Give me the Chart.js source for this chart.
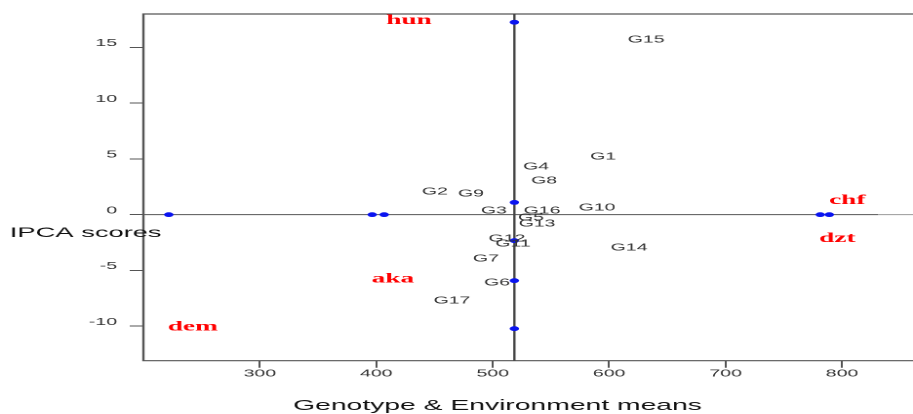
<!DOCTYPE html>
<html>
<head>
<meta charset="utf-8">
<script src="https://cdn.jsdelivr.net/npm/chart.js@4.4.1/dist/chart.umd.min.js"></script>
<style>
    html, body { margin: 0; padding: 0; background: #fff; overflow: hidden; }
    /* La figura original viene estirada ~1.95x en horizontal: se reproduce igual */
    #lienzo {
        position: absolute; left: 0; top: 0;
        width: 468px; height: 414px;
        transform: scaleX(1.9509); transform-origin: 0 0;
    }
</style>
</head>
<body>
<div id="lienzo"><canvas id="graficoBiplot"></canvas></div>
<script>
// Genotipos: media (eje X) y puntuación IPCA1 (eje Y)
const genotipos = ['G1', 'G2', 'G3', 'G4', 'G5', 'G6', 'G7', 'G8', 'G9',
    'G10', 'G11', 'G12', 'G13', 'G14', 'G15', 'G16', 'G17'];
const mediaGenotipo = [594.8, 450.4, 501.1, 537.2, 532.9, 503.7, 494.2, 544.1, 481.3,
    589.6, 517.4, 512.3, 538.1, 617.1, 631.8, 542.4, 465.0];
const ipcaGenotipo = [5.21, 2.06, 0.36, 4.31, -0.27, -6.10, -3.95, 3.05, 1.89,
    0.63, -2.60, -2.15, -0.81, -2.96, 15.71, 0.36, -7.72];

// Ambientes (etiquetas en rojo)
const ambientes = ['hun', 'aka', 'dem', 'chf', 'dzt'];
const mediaAmbiente = [428.1, 414.3, 242.4, 804.5, 795.9];
const ipcaAmbiente = [17.41, -5.75, -10.05, 1.26, -2.15];

// Puntos azules sobre los ejes de referencia
const mediaPunto = [518.6, 518.6, 518.6, 518.6, 518.6, 221.8, 396.5, 406.8, 781.3, 789.1];
const ipcaPunto = [17.26, 1.1, -2.33, -5.92, -10.23, 0, 0, 0, 0, 0];

// Media general y rangos de los ejes
const mediaGeneral = 518.6;
const finTramoOscuro = 831;
const rangoX = [200, 861];
const rangoY = [-13.1, 18];
const ticksX = [300, 400, 500, 600, 700, 800];
const ticksY = [-10, -5, 0, 5, 10, 15];

const fuenteSans = '"Liberation Sans", Arial, sans-serif';
const fuenteSerif = '"Liberation Serif", "Times New Roman", serif';

/**
 * Marco, etiquetas de texto y títulos de ejes (estilo gráfico base de R).
 */
const pluginBiplot = {
    id: 'biplot',
    beforeDatasetsDraw(chart) {
        const { ctx, chartArea } = chart;
        ctx.save();
        ctx.strokeStyle = '#555';
        ctx.lineWidth = 1.2;
        ctx.beginPath();
        ctx.moveTo(chart.width, chartArea.top);
        ctx.lineTo(chartArea.left, chartArea.top);
        ctx.lineTo(chartArea.left, chartArea.bottom);
        ctx.lineTo(chart.width, chartArea.bottom);
        ctx.stroke();
        ctx.restore();
    },
    afterDatasetsDraw(chart) {
        const { ctx } = chart;
        const escalaX = chart.scales.x;
        const escalaY = chart.scales.y;
        ctx.save();
        ctx.textAlign = 'center';
        ctx.textBaseline = 'middle';

        ctx.fillStyle = '#333';
        ctx.font = `10px ${fuenteSans}`;
        genotipos.forEach((g, i) => {
            ctx.fillText(g,
                escalaX.getPixelForValue(mediaGenotipo[i]),
                escalaY.getPixelForValue(ipcaGenotipo[i]));
        });

        ctx.fillStyle = '#ff0000';
        ctx.font = `bold 14px ${fuenteSerif}`;
        ambientes.forEach((a, i) => {
            ctx.fillText(a,
                escalaX.getPixelForValue(mediaAmbiente[i]),
                escalaY.getPixelForValue(ipcaAmbiente[i]));
        });
        ctx.restore();
    },
    afterDraw(chart) {
        const { ctx } = chart;
        ctx.save();
        ctx.fillStyle = '#111';
        ctx.font = `14px ${fuenteSans}`;
        ctx.textBaseline = 'middle';
        ctx.textAlign = 'left';
        ctx.fillText('IPCA scores', 5, 233);
        ctx.font = `14.5px ${fuenteSans}`;
        ctx.textAlign = 'center';
        ctx.fillText('Genotype & Environment means', 255, 406);
        ctx.restore();
    },
};

const ctx = document.getElementById('graficoBiplot').getContext('2d');
new Chart(ctx, {
    type: 'scatter',
    data: {
        datasets: [
            {
                label: 'puntos',
                data: mediaPunto.map((m, i) => ({ x: m, y: ipcaPunto[i] })),
                backgroundColor: '#0a14f0',
                borderWidth: 0,
                pointRadius: 2.4,
            },
            {
                label: 'media general',
                type: 'line',
                data: [{ x: mediaGeneral, y: rangoY[0] }, { x: mediaGeneral, y: rangoY[1] }],
                borderColor: '#444',
                borderWidth: 1.2,
                pointRadius: 0,
            },
            {
                label: 'cero IPCA',
                type: 'line',
                data: [{ x: rangoX[0], y: 0 }, { x: finTramoOscuro, y: 0 }],
                borderColor: '#555',
                borderWidth: 1,
                pointRadius: 0,
            },
            {
                label: 'cero IPCA (resto)',
                type: 'line',
                data: [{ x: finTramoOscuro, y: 0 }, { x: rangoX[1], y: 0 }],
                borderColor: '#9a9a9a',
                borderWidth: 1,
                pointRadius: 0,
            },
        ],
    },
    options: {
        responsive: true,
        maintainAspectRatio: false,
        animation: false,
        devicePixelRatio: 2,
        // sin relleno automático: el área llega hasta el borde derecho
        layout: { autoPadding: false, padding: { top: 14, right: 0, bottom: 0, left: 0 } },
        plugins: { legend: { display: false }, tooltip: { enabled: false } },
        scales: {
            x: {
                type: 'linear',
                min: rangoX[0],
                max: rangoX[1],
                afterBuildTicks: (escala) => { escala.ticks = ticksX.map((v) => ({ value: v })); },
                afterFit: (escala) => { escala.height = 53.3; },
                border: { display: false },
                grid: { drawOnChartArea: false, tickLength: 7, color: '#555' },
                ticks: { padding: 0, color: '#333', font: { family: fuenteSans, size: 10 } },
            },
            y: {
                type: 'linear',
                min: rangoY[0],
                max: rangoY[1],
                afterBuildTicks: (escala) => { escala.ticks = ticksY.map((v) => ({ value: v })); },
                afterFit: (escala) => { escala.width = 73.5; },
                border: { display: false },
                grid: { drawOnChartArea: false, tickLength: 7, color: '#555' },
                ticks: { padding: 6.5, labelOffset: -4, color: '#333', font: { family: fuenteSans, size: 10 } },
            },
        },
    },
    plugins: [pluginBiplot],
});
</script>
</body>
</html>
